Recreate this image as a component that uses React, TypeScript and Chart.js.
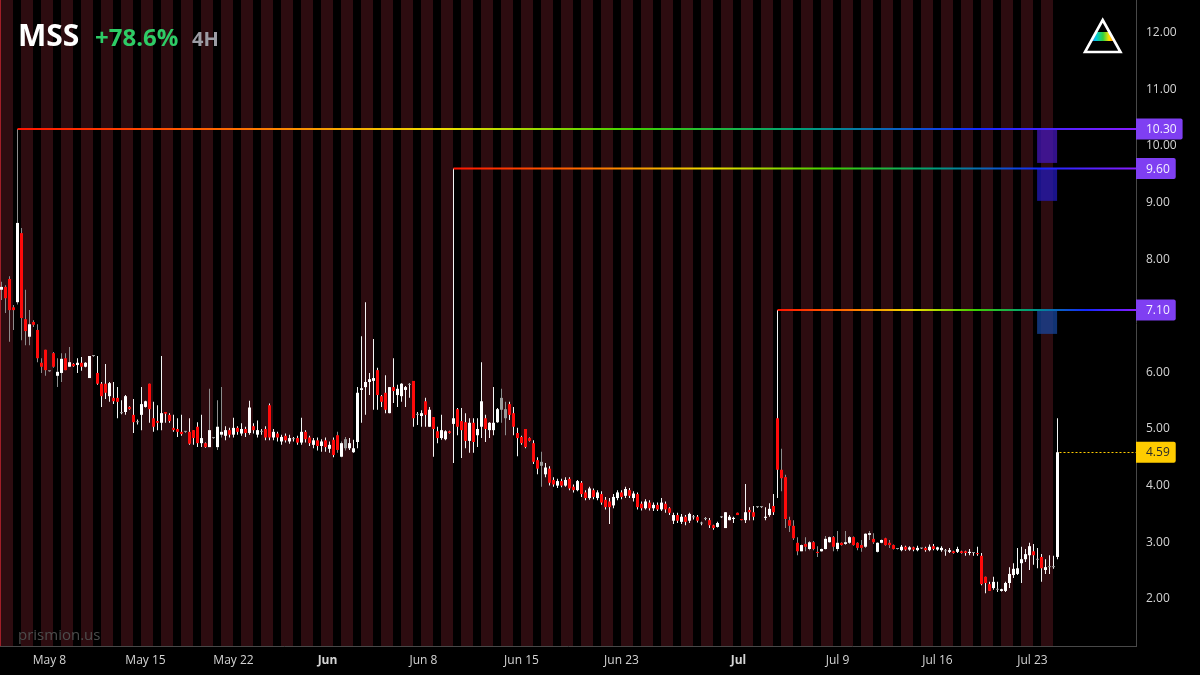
import React, { useEffect, useRef } from 'react';
import { Chart, registerables } from 'chart.js';

Chart.register(...registerables);

// ---------- DATA (4H candles, index 0 = first bar) ----------
const opens = [
  7.46, 7.51, 7.65, 7.15, 7.24, 8.46, 6.94, 6.63, 6.89, 6.75,
  6.17, 6.40, 6.02, 6.34, 5.94, 5.99, 6.25, 6.10, 6.15, 6.13,
  6.17, 6.10, 5.90, 6.29, 5.99, 5.80, 5.80, 5.58, 5.55, 5.55,
  5.28, 5.30, 5.39, 5.25, 5.12, 5.25, 5.39, 5.80, 5.19, 5.14,
  5.11, 5.30, 5.25, 5.02, 5.00, 4.95, 4.95, 4.95, 4.98, 5.04,
  4.75, 4.75, 4.68, 4.84, 4.68, 4.90, 4.88, 4.98, 4.90, 5.02,
  4.92, 5.00, 4.93, 5.05, 4.90, 4.95, 5.00, 5.42, 4.85, 4.92,
  4.78, 4.88, 4.78, 4.82, 4.84, 4.76, 4.95, 4.85, 4.72, 4.80,
  4.70, 4.80, 4.65, 4.81, 4.89, 4.51, 4.66, 4.66, 4.59, 4.77,
  5.69, 5.74, 5.83, 5.85, 6.04, 5.58, 5.64, 5.28, 5.74, 5.60,
  5.58, 5.69, 5.78, 5.85, 5.25, 5.23, 5.49, 5.04, 5.21, 4.96,
  4.84, 4.82, 4.96, 5.09, 5.35, 5.14, 5.12, 4.79, 5.11, 4.89,
  5.04, 5.19, 4.98, 4.98, 5.12, 5.34, 5.35, 5.44, 5.28, 4.93,
  4.86, 5.00, 4.84, 4.75, 4.45, 4.35, 4.20, 4.30, 4.10, 4.00,
  4.08, 4.00, 4.12, 3.98, 3.92, 4.05, 3.88, 3.78, 3.92, 3.78,
  3.85, 3.75, 3.72, 3.65, 3.78, 3.88, 3.82, 3.92, 3.78, 3.85,
  3.68, 3.60, 3.70, 3.60, 3.66, 3.58, 3.68, 3.60, 3.38, 3.48,
  3.36, 3.45, 3.38, 3.44, 3.45, 3.33, 3.41, 3.39, 3.30, 3.27,
  3.44, 3.25, 3.39, 3.41, 3.52, 3.41, 3.39, 3.57, 3.53, 3.62,
  3.62, 3.43, 3.48, 3.64, 5.19, 4.28, 4.15, 3.39, 3.29, 2.99,
  2.84, 2.97, 2.88, 3.00, 2.83, 2.84, 2.88, 3.00, 3.09, 2.88,
  2.99, 2.97, 2.99, 3.09, 2.99, 2.95, 2.92, 3.13, 3.06, 2.83,
  2.99, 3.07, 2.99, 2.95, 2.88, 2.86, 2.92, 2.87, 2.91, 2.86,
  2.89, 2.90, 2.86, 2.93, 2.87, 2.86, 2.84, 2.83, 2.84, 2.83,
  2.84, 2.84, 2.81, 2.82, 2.81, 2.76, 2.39, 2.26, 2.19, 2.16,
  2.14, 2.14, 2.28, 2.42, 2.44, 2.63, 2.70, 2.77, 2.84, 2.69,
  2.74, 2.51, 2.57, 2.56, 2.74,
];
const highs = [
  7.60, 7.54, 7.70, 7.19, 10.30, 8.55, 7.46, 7.10, 6.92, 6.85,
  6.25, 6.40, 6.03, 6.36, 6.25, 6.34, 6.34, 6.45, 6.16, 6.25,
  6.27, 6.18, 6.29, 6.30, 6.29, 5.83, 6.15, 5.83, 5.83, 5.74,
  5.51, 5.60, 5.40, 5.53, 5.17, 5.74, 5.50, 5.80, 5.48, 5.42,
  6.29, 5.30, 5.28, 5.25, 5.19, 5.25, 4.96, 5.19, 4.98, 5.12,
  5.25, 4.76, 5.71, 4.85, 5.51, 5.74, 5.05, 5.02, 5.20, 5.05,
  5.10, 5.04, 5.50, 5.10, 5.15, 5.00, 5.05, 5.45, 5.00, 4.95,
  4.90, 4.92, 4.90, 4.86, 4.88, 5.20, 4.98, 4.88, 4.84, 4.85,
  4.82, 4.85, 4.78, 4.85, 4.95, 4.78, 4.86, 4.84, 4.81, 5.74,
  6.64, 7.24, 5.99, 6.59, 6.08, 5.60, 5.95, 5.74, 6.25, 5.78,
  5.81, 5.76, 5.81, 5.85, 5.30, 5.33, 5.55, 5.39, 5.21, 5.04,
  5.25, 4.98, 4.97, 9.60, 5.37, 5.37, 5.28, 5.19, 5.19, 5.19,
  6.18, 5.25, 5.12, 5.74, 5.37, 5.71, 5.48, 5.48, 5.39, 5.02,
  4.88, 5.00, 4.85, 4.80, 4.50, 4.60, 4.40, 4.34, 4.15, 4.12,
  4.12, 4.15, 4.15, 4.02, 4.10, 4.08, 3.92, 3.98, 3.95, 3.92,
  3.90, 3.80, 3.78, 3.85, 3.92, 3.92, 3.98, 3.96, 3.90, 3.88,
  3.72, 3.76, 3.74, 3.70, 3.70, 3.78, 3.72, 3.62, 3.52, 3.52,
  3.50, 3.48, 3.52, 3.48, 3.48, 3.36, 3.44, 3.43, 3.31, 3.36,
  3.46, 3.53, 3.48, 3.45, 3.52, 3.41, 4.03, 3.62, 3.64, 3.63,
  3.63, 3.62, 3.69, 3.85, 7.10, 4.65, 4.19, 3.45, 3.39, 3.09,
  2.96, 3.09, 3.02, 3.02, 2.93, 2.89, 3.11, 3.10, 3.11, 3.20,
  3.00, 3.20, 3.11, 3.10, 3.00, 3.04, 3.16, 3.20, 3.16, 3.00,
  3.05, 3.08, 3.04, 2.96, 2.89, 2.95, 2.94, 2.93, 2.92, 2.94,
  2.90, 2.92, 2.96, 2.97, 2.92, 2.93, 2.88, 2.90, 2.85, 2.92,
  2.85, 2.85, 2.88, 2.82, 2.92, 2.81, 2.39, 2.30, 2.39, 2.30,
  2.18, 2.30, 2.56, 2.63, 2.90, 2.92, 2.88, 2.99, 2.97, 2.90,
  2.79, 2.70, 2.77, 2.76, 5.19,
];
const lows = [
  7.28, 7.05, 6.54, 6.75, 7.20, 6.57, 6.48, 6.48, 6.80, 6.18,
  5.99, 5.94, 6.01, 6.08, 5.74, 5.83, 6.04, 6.10, 6.10, 5.99,
  6.03, 6.09, 5.90, 6.28, 5.78, 5.39, 5.53, 5.48, 5.44, 5.19,
  5.26, 5.25, 5.34, 4.93, 5.08, 4.98, 5.38, 5.11, 4.95, 4.98,
  4.98, 5.11, 5.11, 4.95, 4.86, 4.88, 4.94, 4.72, 4.72, 4.68,
  4.68, 4.67, 4.68, 4.83, 4.63, 4.85, 4.80, 4.85, 4.85, 4.90,
  4.88, 4.86, 4.90, 4.92, 4.85, 4.90, 4.80, 4.80, 4.80, 4.78,
  4.72, 4.76, 4.74, 4.78, 4.72, 4.72, 4.76, 4.70, 4.66, 4.62,
  4.60, 4.60, 4.58, 4.50, 4.58, 4.50, 4.62, 4.63, 4.58, 4.66,
  5.11, 5.25, 5.60, 5.34, 5.34, 5.39, 5.28, 5.28, 5.46, 5.39,
  5.48, 5.39, 5.55, 5.04, 5.07, 5.04, 5.04, 5.04, 4.51, 4.75,
  4.81, 4.80, 4.92, 4.40, 4.89, 4.49, 4.66, 4.58, 4.58, 4.68,
  4.84, 4.77, 4.84, 4.89, 5.11, 5.11, 4.89, 5.16, 4.89, 4.52,
  4.72, 4.66, 4.78, 4.38, 4.20, 3.98, 4.15, 4.00, 3.98, 3.96,
  3.97, 3.98, 3.92, 3.88, 3.90, 3.80, 3.74, 3.75, 3.76, 3.74,
  3.66, 3.58, 3.32, 3.60, 3.74, 3.76, 3.78, 3.78, 3.72, 3.58,
  3.56, 3.58, 3.56, 3.55, 3.55, 3.55, 3.52, 3.48, 3.32, 3.34,
  3.32, 3.30, 3.34, 3.40, 3.35, 3.30, 3.39, 3.25, 3.22, 3.26,
  3.43, 3.25, 3.39, 3.34, 3.48, 3.39, 3.34, 3.39, 3.39, 3.61,
  3.61, 3.39, 3.45, 3.48, 3.78, 3.90, 3.25, 3.18, 3.04, 2.77,
  2.84, 2.84, 2.86, 2.86, 2.74, 2.83, 2.87, 2.99, 2.84, 2.84,
  2.94, 2.95, 2.97, 2.94, 2.86, 2.83, 2.90, 3.04, 2.97, 2.82,
  2.98, 2.94, 2.90, 2.87, 2.87, 2.84, 2.85, 2.85, 2.84, 2.84,
  2.88, 2.83, 2.84, 2.86, 2.85, 2.83, 2.76, 2.81, 2.80, 2.81,
  2.80, 2.76, 2.77, 2.76, 2.76, 2.24, 2.10, 2.14, 2.16, 2.12,
  2.13, 2.12, 2.19, 2.37, 2.42, 2.28, 2.65, 2.51, 2.60, 2.54,
  2.30, 2.44, 2.44, 2.53, 2.70,
];
const closes = [
  7.51, 7.31, 7.10, 7.10, 8.64, 6.96, 6.73, 6.85, 6.84, 6.25,
  6.10, 6.04, 6.02, 6.10, 6.01, 6.24, 6.04, 6.18, 6.11, 6.17,
  6.10, 6.17, 6.29, 6.29, 5.80, 5.58, 5.64, 5.81, 5.49, 5.48,
  5.28, 5.58, 5.35, 5.12, 5.12, 5.44, 5.49, 5.35, 5.04, 5.11,
  5.28, 5.27, 5.14, 4.98, 4.95, 4.91, 4.95, 4.74, 4.84, 4.75,
  4.84, 4.68, 4.98, 4.84, 5.04, 4.95, 4.98, 4.90, 5.02, 4.95,
  5.00, 4.93, 5.38, 4.98, 4.98, 4.96, 4.85, 4.85, 4.95, 4.85,
  4.86, 4.80, 4.84, 4.83, 4.76, 4.95, 4.82, 4.75, 4.80, 4.70,
  4.78, 4.68, 4.72, 4.54, 4.63, 4.75, 4.82, 4.75, 4.66, 5.64,
  5.72, 5.83, 5.88, 5.90, 5.60, 5.48, 5.34, 5.74, 5.67, 5.71,
  5.80, 5.74, 5.79, 5.19, 5.25, 5.28, 5.25, 5.34, 5.00, 4.84,
  4.98, 4.96, 4.93, 5.19, 5.04, 4.98, 4.79, 5.11, 4.77, 5.00,
  5.49, 5.00, 5.11, 5.11, 5.35, 5.55, 5.19, 5.25, 5.04, 4.84,
  4.75, 4.68, 4.79, 4.42, 4.30, 4.42, 4.32, 4.05, 4.02, 4.08,
  4.00, 4.10, 3.95, 3.92, 4.08, 3.85, 3.78, 3.95, 3.80, 3.88,
  3.70, 3.62, 3.62, 3.80, 3.88, 3.80, 3.94, 3.82, 3.86, 3.62,
  3.60, 3.72, 3.60, 3.66, 3.58, 3.70, 3.58, 3.52, 3.48, 3.38,
  3.45, 3.36, 3.50, 3.45, 3.38, 3.33, 3.42, 3.30, 3.25, 3.34,
  3.45, 3.53, 3.45, 3.43, 3.48, 3.39, 3.53, 3.53, 3.45, 3.62,
  3.62, 3.45, 3.59, 3.53, 4.28, 4.13, 3.41, 3.29, 3.07, 2.84,
  2.95, 2.92, 3.00, 2.88, 2.81, 2.88, 3.06, 3.09, 2.92, 2.99,
  2.95, 3.00, 3.09, 2.95, 2.90, 2.90, 3.15, 3.16, 3.00, 2.99,
  3.04, 2.95, 2.95, 2.88, 2.88, 2.92, 2.87, 2.91, 2.87, 2.90,
  2.89, 2.86, 2.92, 2.88, 2.91, 2.90, 2.85, 2.86, 2.81, 2.88,
  2.81, 2.81, 2.83, 2.81, 2.79, 2.26, 2.28, 2.14, 2.30, 2.17,
  2.17, 2.28, 2.44, 2.53, 2.54, 2.70, 2.79, 2.93, 2.77, 2.70,
  2.54, 2.56, 2.56, 2.57, 4.59,
];

// extended-hours bars (drawn with grey wicks), as [first, last] index ranges
const extHoursRanges = [[0, 17], [52, 55], [84, 86], [125, 126], [135, 135], [195, 224]];
const mutedBodies = [86, 125, 126, 135];

// horizontal rainbow levels
const levelPrices = [10.3, 9.6, 7.1];
const levelStartIdx = [4, 113, 194];
const levelZoneLows = [9.7, 9.03, 6.68];
const zoneCenterIdx = 261.4;
const lastPrice = 4.59;

// axes
const yTickValues = [2, 3, 4, 5, 6, 7, 8, 9, 10, 11, 12];
const xTickIdx = [12, 36, 58, 81.5, 105.5, 130, 155, 184.25, 209, 234, 257.75];
const xTickLabels = ['May 8', 'May 15', 'May 22', 'Jun', 'Jun 8', 'Jun 15', 'Jun 23', 'Jul', 'Jul 9', 'Jul 16', 'Jul 23'];
const boldLabels = ['Jun', 'Jul'];

const symbol = 'MSS';
const changeText = '+78.6%';
const timeframe = '4H';
const watermark = 'prismion.us';
const tradingDays = 53;
const barsPerDay = 5;

// ---------- helpers ----------
const X_MIN = -0.375;
const X_MAX = 283.625;
const Y_MIN = 1.167;
const Y_MAX = 12.578;
const FONT = "'Open Sans', 'Noto Sans', sans-serif";

const isExt = (i: number) => extHoursRanges.some(([a, b]) => i >= a && i <= b);

function rainbow(startIdx: number) {
  return (c: any) => {
    const chart = c.chart;
    const area = chart.chartArea;
    const xs = chart.scales && chart.scales.x;
    if (!area || !xs) return '#ff0000';
    const x0 = xs.getPixelForValue(startIdx);
    const g = chart.ctx.createLinearGradient(x0, 0, area.right, 0);
    g.addColorStop(0, '#ff1400');
    g.addColorStop(0.2, '#ff7000');
    g.addColorStop(0.38, '#eedd00');
    g.addColorStop(0.55, '#40d000');
    g.addColorStop(0.7, '#00a078');
    g.addColorStop(0.86, '#1428ff');
    g.addColorStop(1, '#8a1cff');
    return g;
  };
}

function roundRectRight(ctx: CanvasRenderingContext2D, x: number, y: number, w: number, h: number, r: number) {
  ctx.beginPath();
  ctx.moveTo(x, y);
  ctx.lineTo(x + w - r, y);
  ctx.quadraticCurveTo(x + w, y, x + w, y + r);
  ctx.lineTo(x + w, y + h - r);
  ctx.quadraticCurveTo(x + w, y + h, x + w - r, y + h);
  ctx.lineTo(x, y + h);
  ctx.closePath();
}

const decorPlugin = {
  id: 'decor',
  beforeDraw(chart: any) {
    const ctx = chart.ctx;
    ctx.save();
    ctx.fillStyle = '#000000';
    ctx.fillRect(0, 0, chart.width, chart.height);
    ctx.restore();
  },
  beforeDatasetsDraw(chart: any) {
    const ctx = chart.ctx;
    const area = chart.chartArea;
    const xs = chart.scales.x;
    ctx.save();
    ctx.beginPath();
    ctx.rect(area.left, area.top, area.right - area.left, area.bottom - area.top);
    ctx.clip();
    ctx.fillStyle = '#2d0c10';
    for (let d = 0; d < tradingDays; d++) {
      const x1 = xs.getPixelForValue(d * barsPerDay - 0.125);
      const x2 = xs.getPixelForValue(d * barsPerDay + 2.875);
      ctx.fillRect(Math.round(x1), area.top, Math.round(x2) - Math.round(x1), area.bottom - area.top);
    }
    ctx.fillStyle = '#a01e28';
    ctx.fillRect(area.left, area.top, 1, area.bottom - area.top);
    // watermark
    ctx.fillStyle = '#4d4d4d';
    ctx.font = `15px ${FONT}`;
    ctx.textBaseline = 'alphabetic';
    ctx.textAlign = 'left';
    ctx.fillText(watermark, 18, 640);
    ctx.restore();
  },
  afterDatasetsDraw(chart: any) {
    const ctx = chart.ctx;
    const area = chart.chartArea;
    const xs = chart.scales.x;
    const ys = chart.scales.y;
    ctx.save();
    ctx.strokeStyle = '#ffcc00';
    ctx.lineWidth = 1;
    ctx.setLineDash([2, 2]);
    const y = Math.round(ys.getPixelForValue(lastPrice)) + 0.5;
    ctx.beginPath();
    ctx.moveTo(xs.getPixelForValue(opens.length - 1) + 2, y);
    ctx.lineTo(area.right, y);
    ctx.stroke();
    ctx.restore();
  },
  afterDraw(chart: any) {
    const ctx = chart.ctx;
    const area = chart.chartArea;
    const ys = chart.scales.y;
    ctx.save();
    // price tags
    ctx.font = `12px ${FONT}`;
    ctx.textBaseline = 'middle';
    ctx.textAlign = 'left';
    const tag = (p: number, bg: string, fg: string) => {
      const txt = p.toFixed(2);
      const w = ctx.measureText(txt).width + 16;
      const y = ys.getPixelForValue(p);
      ctx.fillStyle = bg;
      roundRectRight(ctx, area.right, y - 10.5, w, 21, 2);
      ctx.fill();
      ctx.fillStyle = fg;
      ctx.fillText(txt, area.right + 10, y + 0.5);
    };
    levelPrices.forEach((p) => tag(p, '#7f3ff2', '#f4f0ff'));
    tag(lastPrice, '#ffcc00', '#2a2a2a');

    // title
    ctx.textBaseline = 'alphabetic';
    ctx.fillStyle = '#ffffff';
    ctx.font = `bold 30px ${FONT}`;
    ctx.fillText(symbol, 18, 46);
    ctx.fillStyle = '#2ecc66';
    ctx.font = `bold 24px ${FONT}`;
    ctx.fillText(changeText, 95, 46);
    ctx.fillStyle = '#9c9ca4';
    ctx.font = `bold 20px ${FONT}`;
    ctx.fillText(timeframe, 192, 46);

    // logo (prism)
    const ax = 1102.7, ay = 20, bl = 1085, br = 1120.5, by = 52;
    ctx.beginPath();
    ctx.moveTo(ax, ay);
    ctx.lineTo(br, by);
    ctx.lineTo(bl, by);
    ctx.closePath();
    ctx.save();
    ctx.clip();
    const g = ctx.createLinearGradient(1089, 0, 1117, 0);
    g.addColorStop(0, '#2a4cff');
    g.addColorStop(0.25, '#00c8e0');
    g.addColorStop(0.5, '#30d040');
    g.addColorStop(0.72, '#ffe000');
    g.addColorStop(1, '#ff2a00');
    ctx.fillStyle = g;
    ctx.fillRect(1080, 32, 45, 9);
    ctx.restore();
    ctx.strokeStyle = '#ffffff';
    ctx.lineWidth = 2.6;
    ctx.lineJoin = 'miter';
    ctx.stroke();
    ctx.restore();
  },
};

export default function App() {
  const ref = useRef<HTMLCanvasElement | null>(null);

  useEffect(() => {
    document.body.style.margin = '0';
    document.body.style.background = '#000';
    const canvas = ref.current;
    if (!canvas) return;

    const n = opens.length;
    const idx = Array.from({ length: n }, (_, i) => i);
    const bodyColors = idx.map((i) => {
      const diff = closes[i] - opens[i];
      if (Math.abs(diff) < 0.015 || mutedBodies.includes(i)) return '#9a9a9a';
      return diff > 0 ? '#ffffff' : '#ff0a0a';
    });
    const wickColors = idx.map((i) => (isExt(i) ? '#8c8c8c' : '#f4f4f4'));

    const datasets: any[] = [
      {
        type: 'bar',
        label: 'bodies',
        data: idx.map((i) => ({ x: i, y: [opens[i], closes[i]] })),
        backgroundColor: bodyColors,
        barThickness: 3,
        minBarLength: 1,
        grouped: false,
        inflateAmount: 0,
        borderWidth: 0,
        order: 1,
      },
      {
        type: 'bar',
        label: 'wicks',
        data: idx.map((i) => ({ x: i, y: [lows[i], highs[i]] })),
        backgroundColor: wickColors,
        barThickness: 1,
        minBarLength: 1,
        grouped: false,
        inflateAmount: 0,
        borderWidth: 0,
        order: 2,
      },
      {
        type: 'bar',
        label: 'zones',
        data: levelPrices.map((p, k) => ({ x: zoneCenterIdx, y: [levelZoneLows[k], p] })),
        backgroundColor: ['rgba(70,24,190,0.72)', 'rgba(36,26,190,0.72)', 'rgba(24,70,160,0.72)'],
        barThickness: 20,
        grouped: false,
        inflateAmount: 0,
        borderWidth: 0,
        order: 3,
      },
      ...levelPrices.map((p, k) => ({
        type: 'line',
        label: 'level' + k,
        data: [
          { x: levelStartIdx[k], y: p },
          { x: X_MAX, y: p },
        ],
        borderColor: rainbow(levelStartIdx[k]),
        borderWidth: 2,
        pointRadius: 0,
        fill: false,
        order: 0,
      })),
    ];

    const chart = new Chart(canvas, {
      type: 'bar',
      data: { datasets },
      options: {
        responsive: false,
        animation: false,
        devicePixelRatio: 1,
        events: [],
        layout: { padding: 0 },
        plugins: { legend: { display: false }, tooltip: { enabled: false }, title: { display: false } },
        scales: {
          x: {
            type: 'linear',
            min: X_MIN,
            max: X_MAX,
            offset: false,
            grid: { display: false, drawTicks: false },
            border: { display: true, color: '#484848', width: 1 },
            afterBuildTicks: (s: any) => {
              s.ticks = xTickIdx.map((v) => ({ value: v }));
            },
            afterFit: (s: any) => {
              s.height = 29;
              s.paddingLeft = 0;
              s.paddingRight = 0;
            },
            ticks: {
              autoSkip: false,
              maxRotation: 0,
              minRotation: 0,
              padding: 7,
              color: '#d4d4d4',
              callback: (_v: any, i: number) => xTickLabels[i],
              font: (c: any) => ({
                family: FONT,
                size: 12,
                weight: c.tick && boldLabels.includes(c.tick.label) ? 'bold' : 'normal',
              }),
            },
          },
          y: {
            type: 'linear',
            position: 'right',
            min: Y_MIN,
            max: Y_MAX,
            grid: { display: false, drawTicks: false },
            border: { display: true, color: '#484848', width: 1 },
            afterBuildTicks: (s: any) => {
              s.ticks = yTickValues.map((v) => ({ value: v }));
            },
            afterFit: (s: any) => {
              s.width = 64;
              s.paddingTop = 0;
              s.paddingBottom = 0;
            },
            ticks: {
              padding: 10,
              color: '#d4d4d4',
              font: { family: FONT, size: 12 },
              callback: (v: any) => Number(v).toFixed(2),
            },
          },
        },
      },
      plugins: [decorPlugin],
    } as any);

    return () => chart.destroy();
  }, []);

  return (
    <div style={{ position: 'absolute', left: 0, top: 0, width: 1200, height: 675, background: '#000' }}>
      <canvas ref={ref} width={1200} height={675} style={{ display: 'block', width: 1200, height: 675 }} />
    </div>
  );
}
